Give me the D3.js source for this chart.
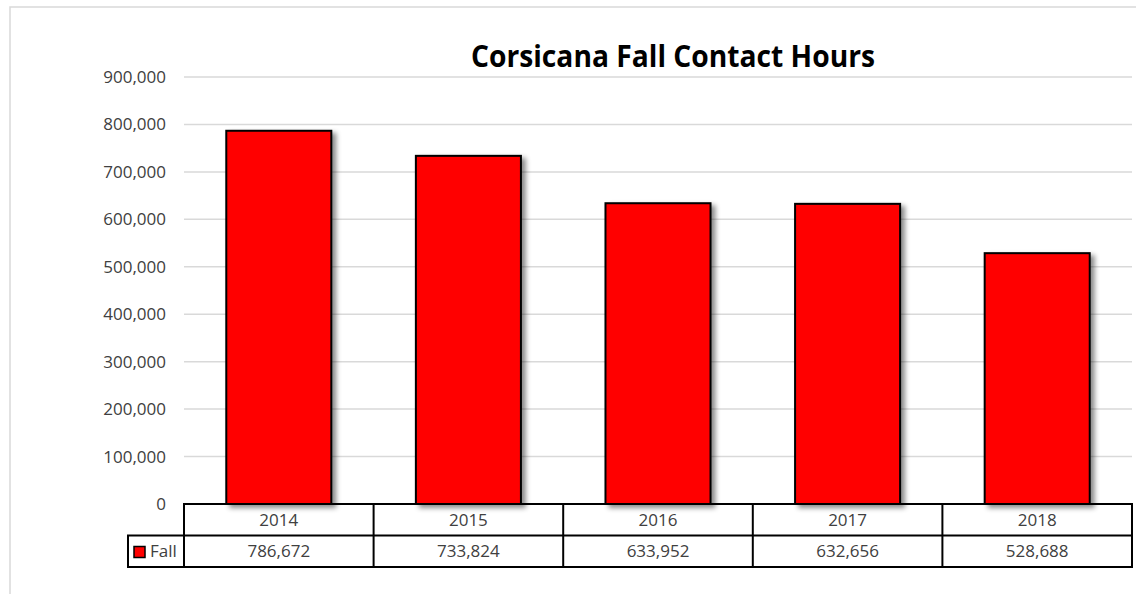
<!DOCTYPE html>
<html>
<head>
<meta charset="utf-8">
<script src="https://cdn.jsdelivr.net/npm/d3@7"></script>
<style>
  html, body { margin: 0; padding: 0; background: #fff; }
  svg { display: block; }
  text { font-family: "Open Sans", "DejaVu Sans", sans-serif; }
</style>
</head>
<body>
<svg id="chart" width="1136" height="594"></svg>
<script>
(function () {
  'use strict';

  // chart data
  var years = ['2014', '2015', '2016', '2017', '2018'];
  var fallHours = [786672, 733824, 633952, 632656, 528688];
  var yTicks = [0, 100000, 200000, 300000, 400000, 500000, 600000, 700000, 800000, 900000];
  var seriesName = 'Fall';
  var chartTitle = 'Corsicana Fall Contact Hours';

  var width = 1136, height = 594;
  var plot = {left: 184, right: 1132, top: 77, bottom: 504};
  var rowH = 31.5;
  var legendLeft = 128;
  var fmt = d3.format(',');

  var svg = d3.select('#chart');

  var defs = svg.append('defs');
  var shadow = defs.append('filter')
    .attr('id', 'barShadow')
    .attr('x', '-10%').attr('y', '-10%')
    .attr('width', '130%').attr('height', '130%');
  shadow.append('feDropShadow')
    .attr('dx', 4).attr('dy', 3)
    .attr('stdDeviation', 2.5)
    .attr('flood-color', '#000')
    .attr('flood-opacity', 0.45);

  // outer chart border (runs off right and bottom of the picture)
  svg.append('rect')
    .attr('x', 10).attr('y', 7)
    .attr('width', width + 20).attr('height', height + 20)
    .attr('fill', 'none')
    .attr('stroke', '#d9d9d9')
    .attr('stroke-width', 1.5);

  var cols = d3.scaleBand()
    .domain(years)
    .range([plot.left, plot.right])
    .padding(0);

  var x = d3.scaleBand()
    .domain(years)
    .range([plot.left, plot.right])
    .paddingInner(0.446)
    .paddingOuter(0.223);

  var y = d3.scaleLinear()
    .domain([0, 900000])
    .range([plot.bottom, plot.top]);

  // gridlines + y labels
  var yAxis = d3.axisLeft(y)
    .tickValues(yTicks)
    .tickFormat(fmt)
    .tickSize(0)
    .tickPadding(18);

  var yg = svg.append('g')
    .attr('transform', 'translate(' + plot.left + ',0)')
    .call(yAxis);
  yg.select('.domain').remove();
  yg.selectAll('text')
    .attr('font-size', 17)
    .attr('font-family', '"Open Sans", sans-serif')
    .attr('fill', '#404040');

  svg.append('g')
    .selectAll('line')
    .data(yTicks.filter(function (d) { return d > 0; }))
    .join('line')
    .attr('x1', plot.left).attr('x2', plot.right)
    .attr('y1', function (d) { return y(d); })
    .attr('y2', function (d) { return y(d); })
    .attr('stroke', '#d9d9d9')
    .attr('stroke-width', 1.5);

  // bars
  svg.append('g')
    .selectAll('rect')
    .data(fallHours)
    .join('rect')
    .attr('x', function (d, i) { return x(years[i]); })
    .attr('y', function (d) { return y(d); })
    .attr('width', x.bandwidth())
    .attr('height', function (d) { return y(0) - y(d); })
    .attr('fill', '#ff0000')
    .attr('stroke', '#000')
    .attr('stroke-width', 2)
    .attr('filter', 'url(#barShadow)');

  // data table
  var table = svg.append('g')
    .attr('fill', 'none')
    .attr('stroke', '#000')
    .attr('stroke-width', 2);

  var r0 = plot.bottom, r1 = plot.bottom + rowH, r2 = plot.bottom + rowH * 2;

  table.append('rect')
    .attr('x', plot.left).attr('y', r0)
    .attr('width', plot.right - plot.left).attr('height', rowH * 2);
  table.append('rect')
    .attr('x', legendLeft).attr('y', r1)
    .attr('width', plot.left - legendLeft).attr('height', rowH);
  table.append('line')
    .attr('x1', plot.left).attr('x2', plot.right)
    .attr('y1', r1).attr('y2', r1);
  table.selectAll('line.col')
    .data(years.slice(1))
    .join('line')
    .attr('class', 'col')
    .attr('x1', function (d) { return cols(d); })
    .attr('x2', function (d) { return cols(d); })
    .attr('y1', r0).attr('y2', r2);

  var cellText = svg.append('g')
    .attr('font-size', 17)
    .attr('fill', '#404040')
    .attr('text-anchor', 'middle');

  cellText.selectAll('text.year')
    .data(years)
    .join('text')
    .attr('class', 'year')
    .attr('x', function (d) { return cols(d) + cols.bandwidth() / 2; })
    .attr('y', (r0 + r1) / 2)
    .attr('dy', '0.35em')
    .text(function (d) { return d; });

  cellText.selectAll('text.val')
    .data(fallHours)
    .join('text')
    .attr('class', 'val')
    .attr('x', function (d, i) { return cols(years[i]) + cols.bandwidth() / 2; })
    .attr('y', (r1 + r2) / 2)
    .attr('dy', '0.35em')
    .text(function (d) { return fmt(d); });

  // legend key inside table
  svg.append('rect')
    .attr('x', 134).attr('y', r1 + 11)
    .attr('width', 11).attr('height', 11)
    .attr('fill', '#ff0000')
    .attr('stroke', '#000')
    .attr('stroke-width', 1.5);
  svg.append('text')
    .attr('x', 150).attr('y', (r1 + r2) / 2)
    .attr('dy', '0.35em')
    .attr('font-size', 17)
    .attr('fill', '#404040')
    .text(seriesName);

  // title
  svg.append('text')
    .attr('x', 673).attr('y', 67)
    .attr('text-anchor', 'middle')
    .attr('font-size', 31)
    .attr('font-weight', 'bold')
    .attr('fill', '#000')
    .attr('textLength', 404)
    .attr('lengthAdjust', 'spacingAndGlyphs')
    .text(chartTitle);
})();
</script>
</body>
</html>
